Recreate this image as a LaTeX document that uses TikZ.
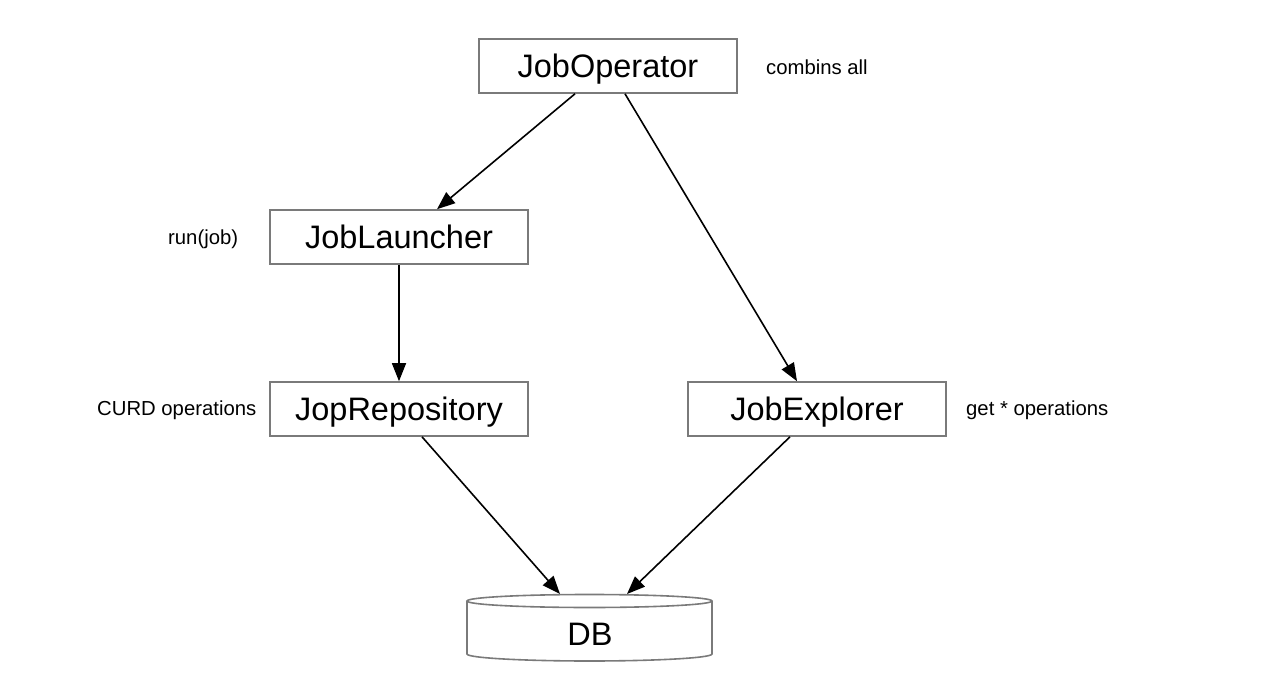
\documentclass[tikz,border=0pt]{standalone}
\usepackage{fontspec}
\setmainfont{Liberation Sans}
\usetikzlibrary{shapes.geometric,arrows.meta}
\definecolor{boxgray}{HTML}{7A7A7A}
\tikzset{
  bigtext/.style={font=\fontsize{32.5}{36}\selectfont, text height=23.4pt, text depth=0pt},
  box/.style={draw=boxgray, line width=1.6pt, fill=white, minimum width=258pt, minimum height=54pt, inner sep=0pt, bigtext},
  note/.style={font=\fontsize{20.3}{24}\selectfont, inner sep=0pt, anchor=west},
  conn/.style={line width=1.6pt, -{Triangle[length=18pt,width=14pt]}},
  cyl/.style={draw=boxgray, line width=1.6pt, fill=white},
}
\begin{document}
\begin{tikzpicture}[x=1pt,y=-1pt]
\useasboundingbox (0,0) rectangle (1270,682);
\node[box] (op) at (608,66) {JobOperator};
\node[box] (la) at (399,237) {JobLauncher};
\node[box] (re) at (399,409) {JopRepository};
\node[box] (ex) at (817,409) {JobExplorer};
% DB cylinder
\draw[cyl] (467,601) -- (467,654) arc[start angle=180, end angle=360, x radius=122.5pt, y radius=7pt] -- (712,601);
\draw[cyl] (589.5,601) ellipse[x radius=122.5pt, y radius=6.5pt];
\node[bigtext, inner sep=0pt] (db) at (590,634) {DB};
\coordinate (db1) at (560,594);
\coordinate (db2) at (627,594);
% notes
\node[note] (n1) at (766,67) {combins all};
\node[note] (n2) at (168,239) {run(job)};
\node[note] (n3) at (97,410) {CURD operations};
\node[note] (n4) at (966,410) {get * operations};
% connectors
\draw[conn] (op.south -| 575,0) -- (la.north -| 437,0);
\draw[conn] (op.south -| 625,0) -- (ex.north -| 797,0);
\draw[conn] (la.south) -- (re.north);
\draw[conn] (re.south -| 422,0) -- (db1);
\draw[conn] (ex.south -| 790,0) -- (db2);
\end{tikzpicture}
\end{document}
